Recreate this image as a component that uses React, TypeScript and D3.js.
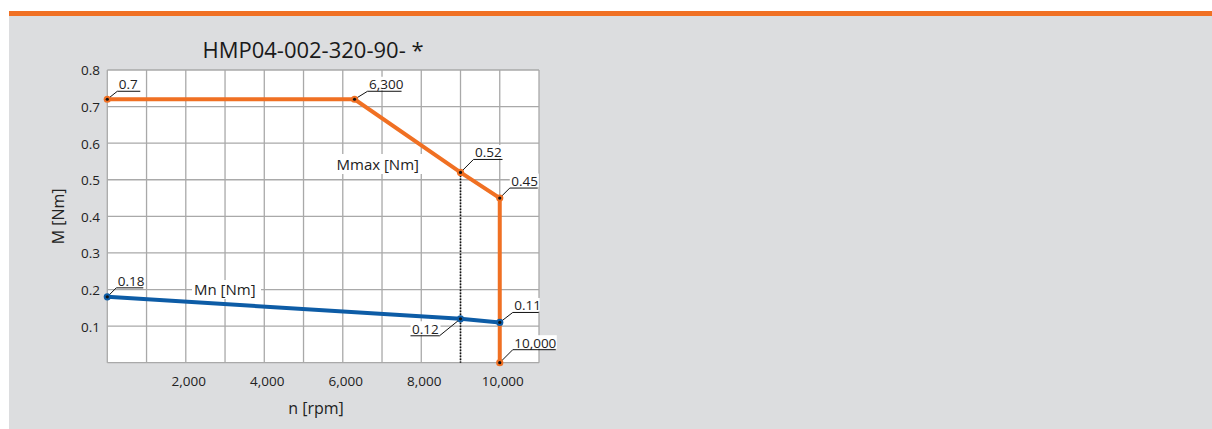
import React from "react";
import * as d3 from "d3";

// Speed axis (rpm) and torque axis (Nm)
const xTickValues = [2000, 4000, 6000, 8000, 10000];
const yTickValues = [0.1, 0.2, 0.3, 0.4, 0.5, 0.6, 0.7, 0.8];

// Peak torque curve Mmax
const mmaxSpeed = [0, 6300, 9000, 10000, 10000];
const mmaxTorque = [0.72, 0.72, 0.52, 0.45, 0];

// Rated torque curve Mn
const mnSpeed = [0, 9000, 10000];
const mnTorque = [0.18, 0.12, 0.11];

// Callouts: point index per series and the text shown
type Callout = { series: "mmax" | "mn"; index: number; text: string; dx: number; dy: number; len: number };
const callouts: Callout[] = [
  { series: "mmax", index: 0, text: d3.format(".1f")(mmaxTorque[0]), dx: 10, dy: -8, len: 23 },
  { series: "mmax", index: 1, text: d3.format(",")(mmaxSpeed[1]), dx: 13, dy: -8, len: 34 },
  { series: "mmax", index: 2, text: d3.format(".2f")(mmaxTorque[2]), dx: 13, dy: -13, len: 29 },
  { series: "mmax", index: 3, text: d3.format(".2f")(mmaxTorque[3]), dx: 10, dy: -10, len: 28 },
  { series: "mmax", index: 4, text: d3.format(",")(mmaxSpeed[4]), dx: 13, dy: -13, len: 43 },
  { series: "mn", index: 0, text: d3.format(".2f")(mnTorque[0]), dx: 9, dy: -9, len: 27 },
  { series: "mn", index: 1, text: d3.format(".2f")(mnTorque[1]), dx: -21, dy: 17, len: -29 },
  { series: "mn", index: 2, text: d3.format(".2f")(mnTorque[2]), dx: 13, dy: -10, len: 26 },
];

const ORANGE = "#f07023";
const BLUE = "#0d5ca6";
const GRID = "#a9a9a9";
const BG = "#dcdddf";
const FONT = "'Open Sans', 'Noto Sans', sans-serif";

export default function App() {
  const W = 1212;
  const H = 429;
  const x = d3.scaleLinear().domain([0, 11000]).range([107.3, 539]);
  const y = d3.scaleLinear().domain([0, 0.8]).range([362.7, 70]);

  const line = d3
    .line<[number, number]>()
    .x((d) => x(d[0]))
    .y((d) => y(d[1]));

  const mmaxPts: [number, number][] = mmaxSpeed.map((s, i) => [s, mmaxTorque[i]]);
  const mnPts: [number, number][] = mnSpeed.map((s, i) => [s, mnTorque[i]]);

  const xGrid = d3.range(0, 11001, 1000);
  const yGrid = d3.range(0, 9).map((i) => i / 10);

  const dottedSpeed = mmaxSpeed[2];

  return (
    <svg
      width={W}
      height={H}
      style={{ position: "absolute", left: 0, top: 0, display: "block" }}
      fontFamily={FONT}
    >
      <rect x={0} y={0} width={W} height={H} fill="#ffffff" />
      <rect x={9} y={16} width={W - 9} height={H - 16} fill={BG} />
      <rect x={9} y={11} width={W - 9} height={5} fill={ORANGE} />

      {/* title */}
      <text x={313} y={58.3} textAnchor="middle" fontSize={22} fill="#1a1a1a">
        HMP04-002-320-90- *
      </text>

      {/* plot area */}
      <rect x={x(0)} y={y(0.8)} width={x(11000) - x(0)} height={y(0) - y(0.8)} fill="#ffffff" />
      {xGrid.map((v) => (
        <line key={"gx" + v} x1={x(v)} x2={x(v)} y1={y(0)} y2={y(0.8)} stroke={GRID} strokeWidth={1.3} />
      ))}
      {yGrid.map((v) => (
        <line key={"gy" + v} x1={x(0)} x2={x(11000)} y1={y(v)} y2={y(v)} stroke={GRID} strokeWidth={1.3} />
      ))}

      {/* tick labels */}
      {xTickValues.map((v) => (
        <text key={"xt" + v} x={x(v) + 3} y={385.5} textAnchor="middle" fontSize={13.5} fill="#222">
          {d3.format(",")(v)}
        </text>
      ))}
      {yTickValues.map((v) => (
        <text key={"yt" + v} x={100} y={y(v) + 5.4} textAnchor="end" fontSize={13.5} fill="#222">
          {d3.format(".1f")(v)}
        </text>
      ))}

      {/* axis titles */}
      <text x={316} y={414} textAnchor="middle" fontSize={16} fill="#222">
        n [rpm]
      </text>
      <text
        transform={`translate(64,${(y(0) + y(0.8)) / 2}) rotate(-90)`}
        textAnchor="middle"
        fontSize={16}
        fill="#222"
      >
        M [Nm]
      </text>

      {/* reference line at the 0.52 point */}
      <line
        x1={x(dottedSpeed)}
        x2={x(dottedSpeed)}
        y1={y(mmaxTorque[2])}
        y2={y(0)}
        stroke="#111"
        strokeWidth={1.6}
        strokeDasharray="1.6,1.4"
      />

      {/* series labels */}
      <rect x={335} y={154} width={90} height={20} fill="#ffffff" />
      <text x={336.5} y={170} fontSize={15} fill="#222">
        Mmax [Nm]
      </text>
      <rect x={192} y={280} width={69} height={19} fill="#ffffff" />
      <text x={194} y={295} fontSize={15} fill="#222">
        Mn [Nm]
      </text>

      {/* curves */}
      <path d={line(mmaxPts) || ""} fill="none" stroke={ORANGE} strokeWidth={4} strokeLinejoin="miter" />
      <path d={line(mnPts) || ""} fill="none" stroke={BLUE} strokeWidth={4} />

      {/* callouts */}
      {callouts.map((c, i) => {
        const pts = c.series === "mmax" ? mmaxPts : mnPts;
        const col = c.series === "mmax" ? ORANGE : BLUE;
        const px = x(pts[c.index][0]);
        const py = y(pts[c.index][1]);
        const ex = px + c.dx;
        const ey = py + c.dy;
        const ux = ex + c.len;
        const tx = Math.min(ex, ux) + 1.5;
        const tw = Math.abs(c.len) - 2;
        return (
          <g key={"c" + i}>
            <rect x={tx - 1.5} y={ey - 14.5} width={tw + 3} height={13.5} fill="#ffffff" />
            <text x={tx} y={ey - 2} fontSize={13.5} fill="#222">
              {c.text}
            </text>
            <polyline points={`${px},${py} ${ex},${ey} ${ux},${ey}`} fill="none" stroke="#111" strokeWidth={1} />
            <circle cx={px} cy={py} r={3.6} fill={col} />
            <circle cx={px} cy={py} r={1.6} fill="#111" />
          </g>
        );
      })}
    </svg>
  );
}
